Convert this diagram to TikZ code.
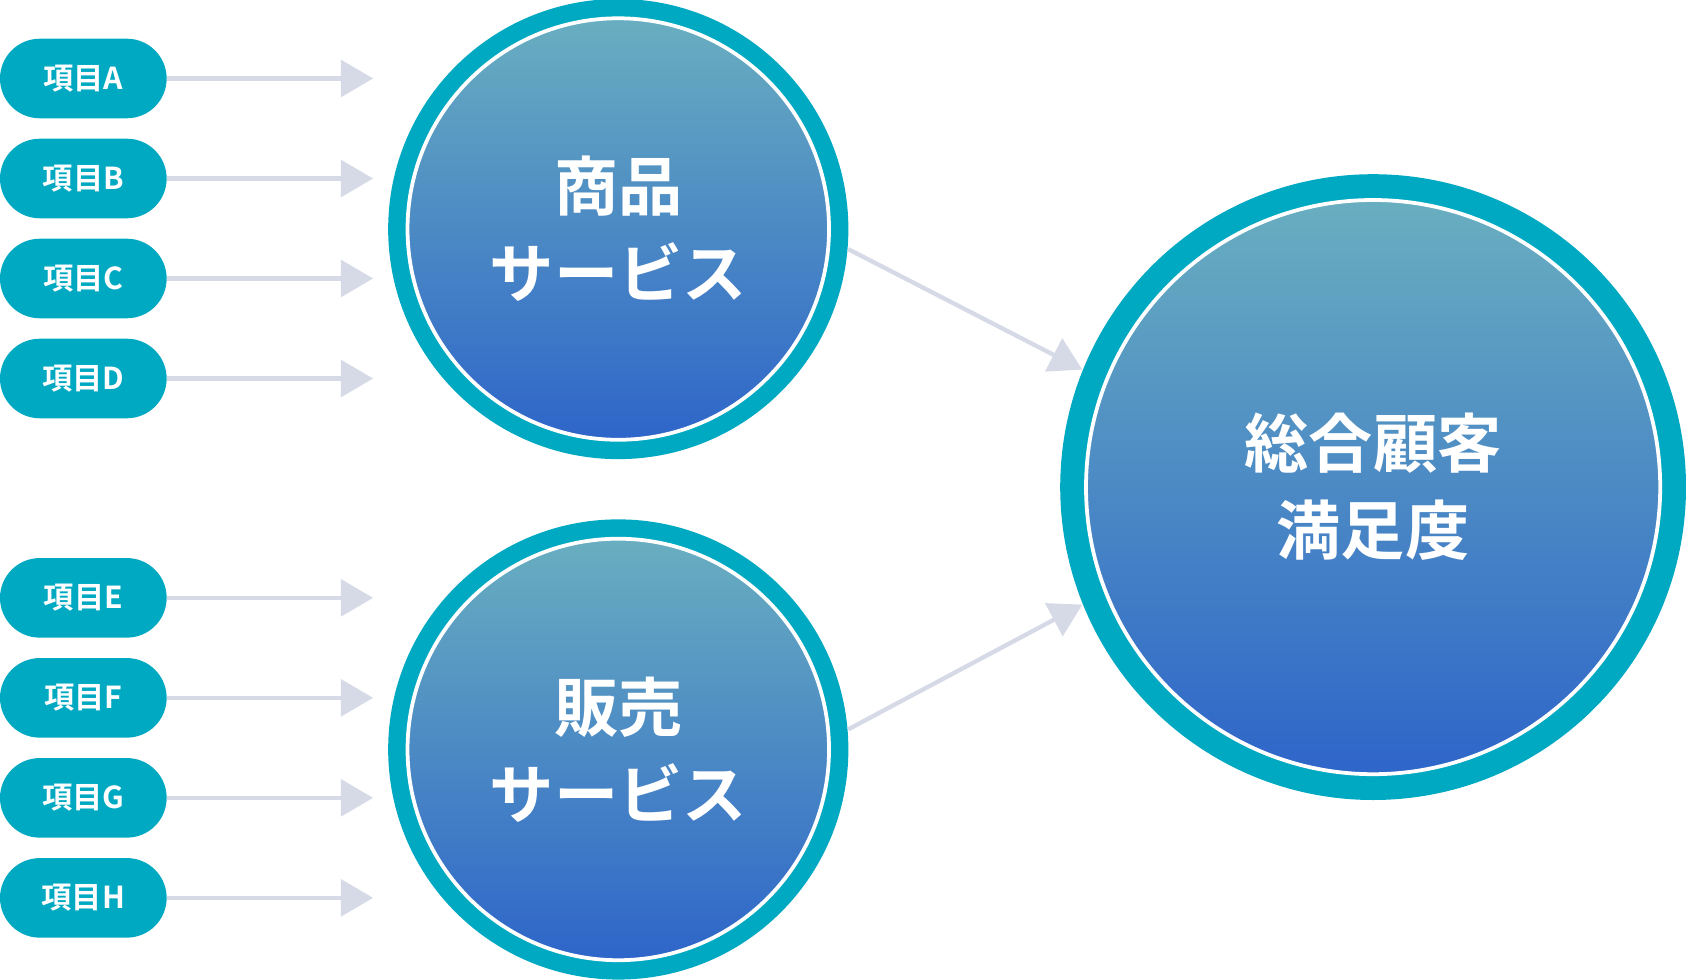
\documentclass[tikz,border=0pt]{standalone}
\usepackage{fontspec}
\setmainfont{Noto Sans CJK JP}[BoldFont={Noto Sans CJK JP Bold}]
\usetikzlibrary{arrows.meta,positioning,calc}
\definecolor{ringteal}{HTML}{00A9C2}
\definecolor{flowgray}{HTML}{D5DAE6}
\definecolor{gradtop}{HTML}{69AEC0}
\definecolor{gradbot}{HTML}{2E65C9}
\tikzset{%
  >={Triangle[length=3mm,width=3.4mm]},
  % Specifications for style of nodes:
            item/.style = {rectangle, rounded corners=3.7mm, fill=ringteal,
                           minimum width=15.5mm, minimum height=7.4mm,
                           text=white, font=\bfseries\fontsize{8pt}{9pt}\selectfont},
            ring/.style = {circle, fill=ringteal, inner sep=0pt},
            core/.style = {circle, draw=white, line width=0.35mm, inner sep=0pt,
                           top color=gradtop, bottom color=gradbot,
                           text=white, align=center,
                           font=\bfseries\fontsize{17pt}{23pt}\selectfont},
            flow/.style = {->, draw=flowgray, line width=0.4mm}
                           }

\begin{document}
\begin{tikzpicture}
  \useasboundingbox (0,0) rectangle (15.68,9.11);

  % input items
  \foreach \name/\lbl/\y in {iA/A/8.38, iB/B/7.45, iC/C/6.52, iD/D/5.59,
                             iE/E/3.55, iF/F/2.62, iG/G/1.69, iH/H/0.76} {
    \node (\name) [item] at (0.775,\y) {項目\lbl};
  }
  \coordinate (tipx) at (3.47,0);

  % service circles
  \node (p1)  [ring, minimum size=42.8mm] at (5.75,6.98) {};
  \node (p1c) [core, minimum size=39.2mm] at (p1) {商品\\サービス};
  \node (p2)  [ring, minimum size=42.8mm] at (5.75,2.14) {};
  \node (p2c) [core, minimum size=39.2mm] at (p2) {販売\\サービス};

  % overall satisfaction
  \node (sat)  [ring, minimum size=58.2mm] at (12.77,4.58) {};
  \node (satc) [core, minimum size=53.4mm] at (sat) {総合顧客\\満足度};

  \foreach \name in {iA,iB,iC,iD,iE,iF,iG,iH}
    \draw[flow] (\name.east) -- (\name -| tipx);

  \draw[flow] (p1.-5) -- (sat.158);
  \draw[flow] (p2.5)  -- (sat.202);
\end{tikzpicture}
\end{document}
